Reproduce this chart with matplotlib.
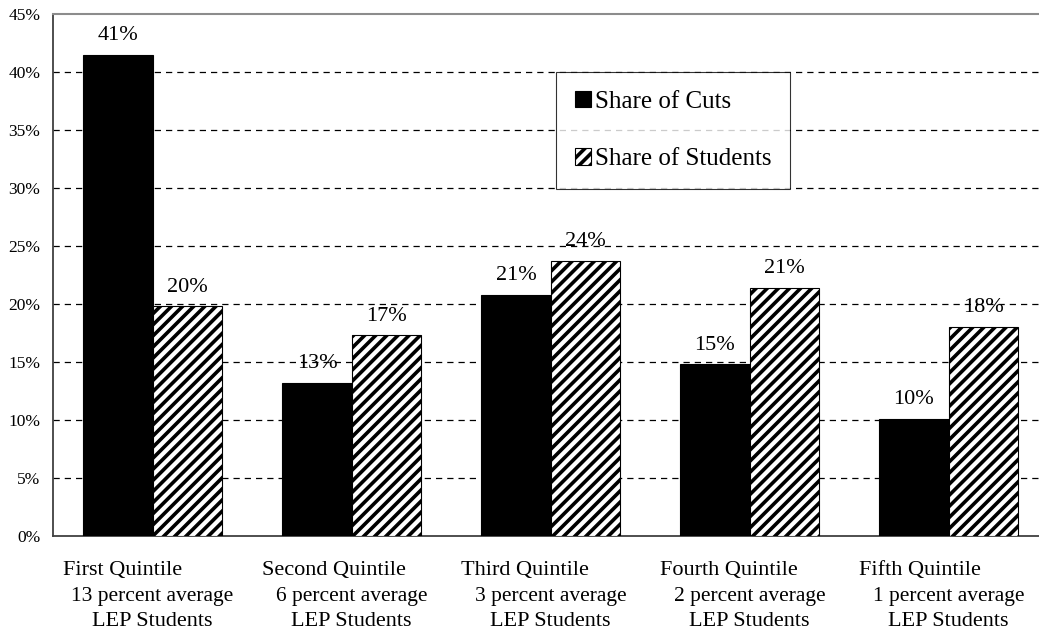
import numpy as np
import matplotlib.pyplot as plt
import matplotlib.transforms as mtransforms

# Dati
quintili = ["First Quintile", "Second Quintile", "Third Quintile",
            "Fourth Quintile", "Fifth Quintile"]
medie = ["13 percent average", "6 percent average", "3 percent average",
         "2 percent average", "1 percent average"]
riga3 = ["LEP Students"] * 5
share_cuts = [41.5, 13.2, 20.8, 14.8, 10.1]
share_students = [19.8, 17.3, 23.7, 21.4, 18.0]
etichette_cuts = ["41%", "13%", "21%", "15%", "10%"]
etichette_students = ["20%", "17%", "24%", "21%", "18%"]
y_ticks = [0, 5, 10, 15, 20, 25, 30, 35, 40, 45]

plt.rcParams['font.family'] = ['Liberation Serif', 'DejaVu Serif']
plt.rcParams['hatch.linewidth'] = 2.6

fig = plt.figure(figsize=(10.39, 6.37), dpi=100)
W, H = 1039, 637
ax = fig.add_axes([53 / W, 1 - 536 / H, (1048 - 53) / W, (536 - 14) / H])

x = np.arange(len(quintili))
w = 0.347
b1 = ax.bar(x - w / 2, share_cuts, w, color='black', edgecolor='black',
            linewidth=0.8, label='Share of Cuts', zorder=3)
b2 = ax.bar(x + w / 2, share_students, w, color='white', edgecolor='black',
            hatch='///', linewidth=0.8, label='Share of Students', zorder=3)

for xi, v, t in zip(x - w / 2, share_cuts, etichette_cuts):
    ax.annotate(t, (xi, v), xytext=(0, 7), textcoords='offset points',
                ha='center', va='bottom', fontsize=16, zorder=1)
for xi, v, t in zip(x + w / 2, share_students, etichette_students):
    ax.annotate(t, (xi, v), xytext=(0, 7), textcoords='offset points',
                ha='center', va='bottom', fontsize=16, zorder=1)

ax.set_xlim(-0.5, len(quintili) - 0.5)
ax.set_ylim(0, 45)
ax.set_yticks(y_ticks)
ax.set_yticklabels([f"{t}%" for t in y_ticks], fontsize=12.5)
ax.tick_params(axis='y', length=0, pad=9)
ax.set_xticks([])

# griglia tratteggiata
for t in y_ticks[1:-1]:
    ax.axhline(t, color='black', linestyle=(0, (5, 4)), linewidth=0.9, zorder=0)

ax.spines['right'].set_visible(False)
ax.spines['top'].set_color('#8c8c8c')
ax.spines['top'].set_linewidth(1.5)
ax.spines['left'].set_color('#404040')
ax.spines['bottom'].set_color('#404040')
ax.spines['left'].set_linewidth(1.3)
ax.spines['bottom'].set_linewidth(1.3)

# etichette categorie su tre righe
trans = mtransforms.blended_transform_factory(ax.transData, fig.transFigure)
for i in range(len(quintili)):
    ax.text(i - 0.452, 1 - 571 / H, quintili[i], transform=trans, ha='left',
            va='center', fontsize=16, clip_on=False)
    ax.text(i, 1 - 597 / H, medie[i], transform=trans, ha='center',
            va='center', fontsize=15.5, clip_on=False)
    ax.text(i, 1 - 622 / H, riga3[i], transform=trans, ha='center',
            va='center', fontsize=16, clip_on=False)

leg = fig.legend(handles=[b1, b2], loc='upper left',
                 bbox_to_anchor=(556 / W, 1 - 72 / H), fontsize=18,
                 frameon=True, fancybox=False, handlelength=0.65,
                 handleheight=0.65, handletextpad=0.15, labelspacing=1.4,
                 borderpad=0.75, borderaxespad=0)
leg.get_frame().set_edgecolor('black')
leg.get_frame().set_linewidth(0.8)

plt.savefig("out.png", dpi=100)
